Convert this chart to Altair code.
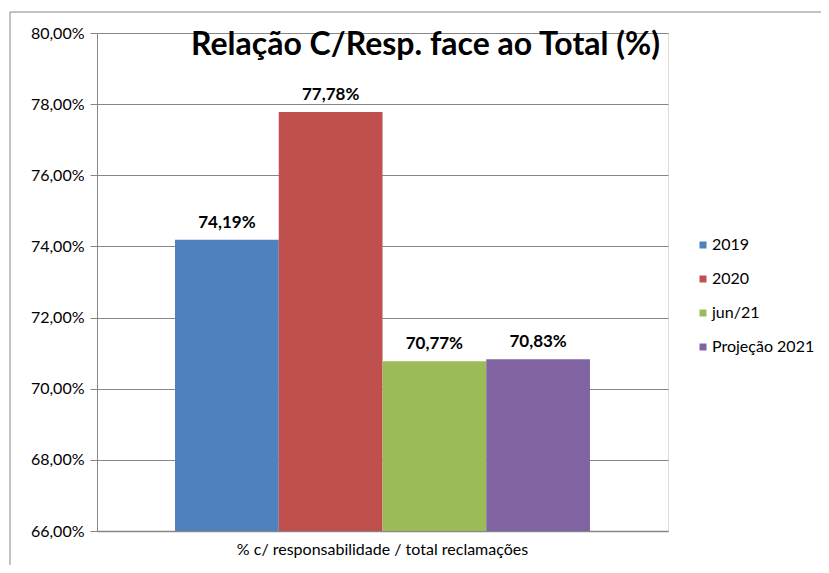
import altair as alt
import pandas as pd

series = ["2019", "2020", "jun/21", "Projeção 2021"]
values = [74.19, 77.78, 70.77, 70.83]
colors = ["#4F81BD", "#C0504D", "#9BBB59", "#8064A2"]
category = "% c/ responsabilidade / total reclamações"
y_ticks = [66, 68, 70, 72, 74, 76, 78, 80]

df = pd.DataFrame({"cat": [category] * 4, "series": series, "value": values})
df["label"] = [f"{v:.2f}".replace(".", ",") + "%" for v in values]

FONT = "Lato"

base = alt.Chart(df).encode(
    x=alt.X("cat:N", title=None,
            scale=alt.Scale(paddingInner=0, paddingOuter=0.188),
            axis=alt.Axis(labelAngle=0, labelFontSize=16, labelFont=FONT, labelColor="#000",
                          labelLimit=0, labelPadding=10, ticks=False,
                          domainColor="#868686", domainWidth=1.3)),
    xOffset=alt.XOffset("series:N", sort=series,
                        scale=alt.Scale(paddingInner=0, paddingOuter=0)),
    y=alt.Y("value:Q", title=None,
            scale=alt.Scale(domain=[66, 80], nice=False, zero=False),
            axis=alt.Axis(values=y_ticks, labelFontSize=16, labelFont=FONT, labelColor="#000",
                          labelExpr="replace(format(datum.value, '.2f'), '.', ',') + '%'",
                          tickSize=7, tickColor="#868686", domainColor="#868686",
                          gridColor="#868686", gridWidth=1.2, labelPadding=6)),
)

bars = base.mark_bar(clip=True).encode(
    color=alt.Color("series:N", sort=series,
                    scale=alt.Scale(domain=series, range=colors),
                    legend=alt.Legend(title=None, orient="none", legendX=598, legendY=204,
                                      padding=0,
                                      symbolType="square", symbolSize=49, symbolStrokeWidth=0,
                                      labelFontSize=16, labelFont=FONT, labelColor="#000",
                                      rowPadding=18, labelOffset=1))
)

labels = base.mark_text(
    dy=-12, baseline="alphabetic", fontSize=17, fontWeight="bold", font=FONT, color="#000"
).encode(text="label:N")

one = pd.DataFrame({"a": [0]})
frame_left = alt.Chart(one).mark_rule(color="#868686", strokeWidth=1, clip=False).encode(
    x=alt.value(-87), y=alt.value(-21), y2=alt.value(539))
frame_top = alt.Chart(one).mark_rule(color="#868686", strokeWidth=1, clip=False).encode(
    x=alt.value(-87), x2=alt.value(731), y=alt.value(-21))

chart = alt.layer(frame_left, frame_top, bars, labels).properties(
    width=571, height=498,
    padding={"left": 89, "top": 25, "right": 153, "bottom": 34},
    autosize=alt.AutoSizeParams(type="none"),
    title=alt.TitleParams("Relação C/Resp. face ao Total (%)", fontSize=32, fontWeight="bold",
                          font=FONT, color="#000", anchor="middle", dx=43, dy=79,
                          baseline="alphabetic"),
).configure_view(stroke=None).configure(background="white")

chart.save("out.html", embed_options={"renderer": "svg", "actions": False})
